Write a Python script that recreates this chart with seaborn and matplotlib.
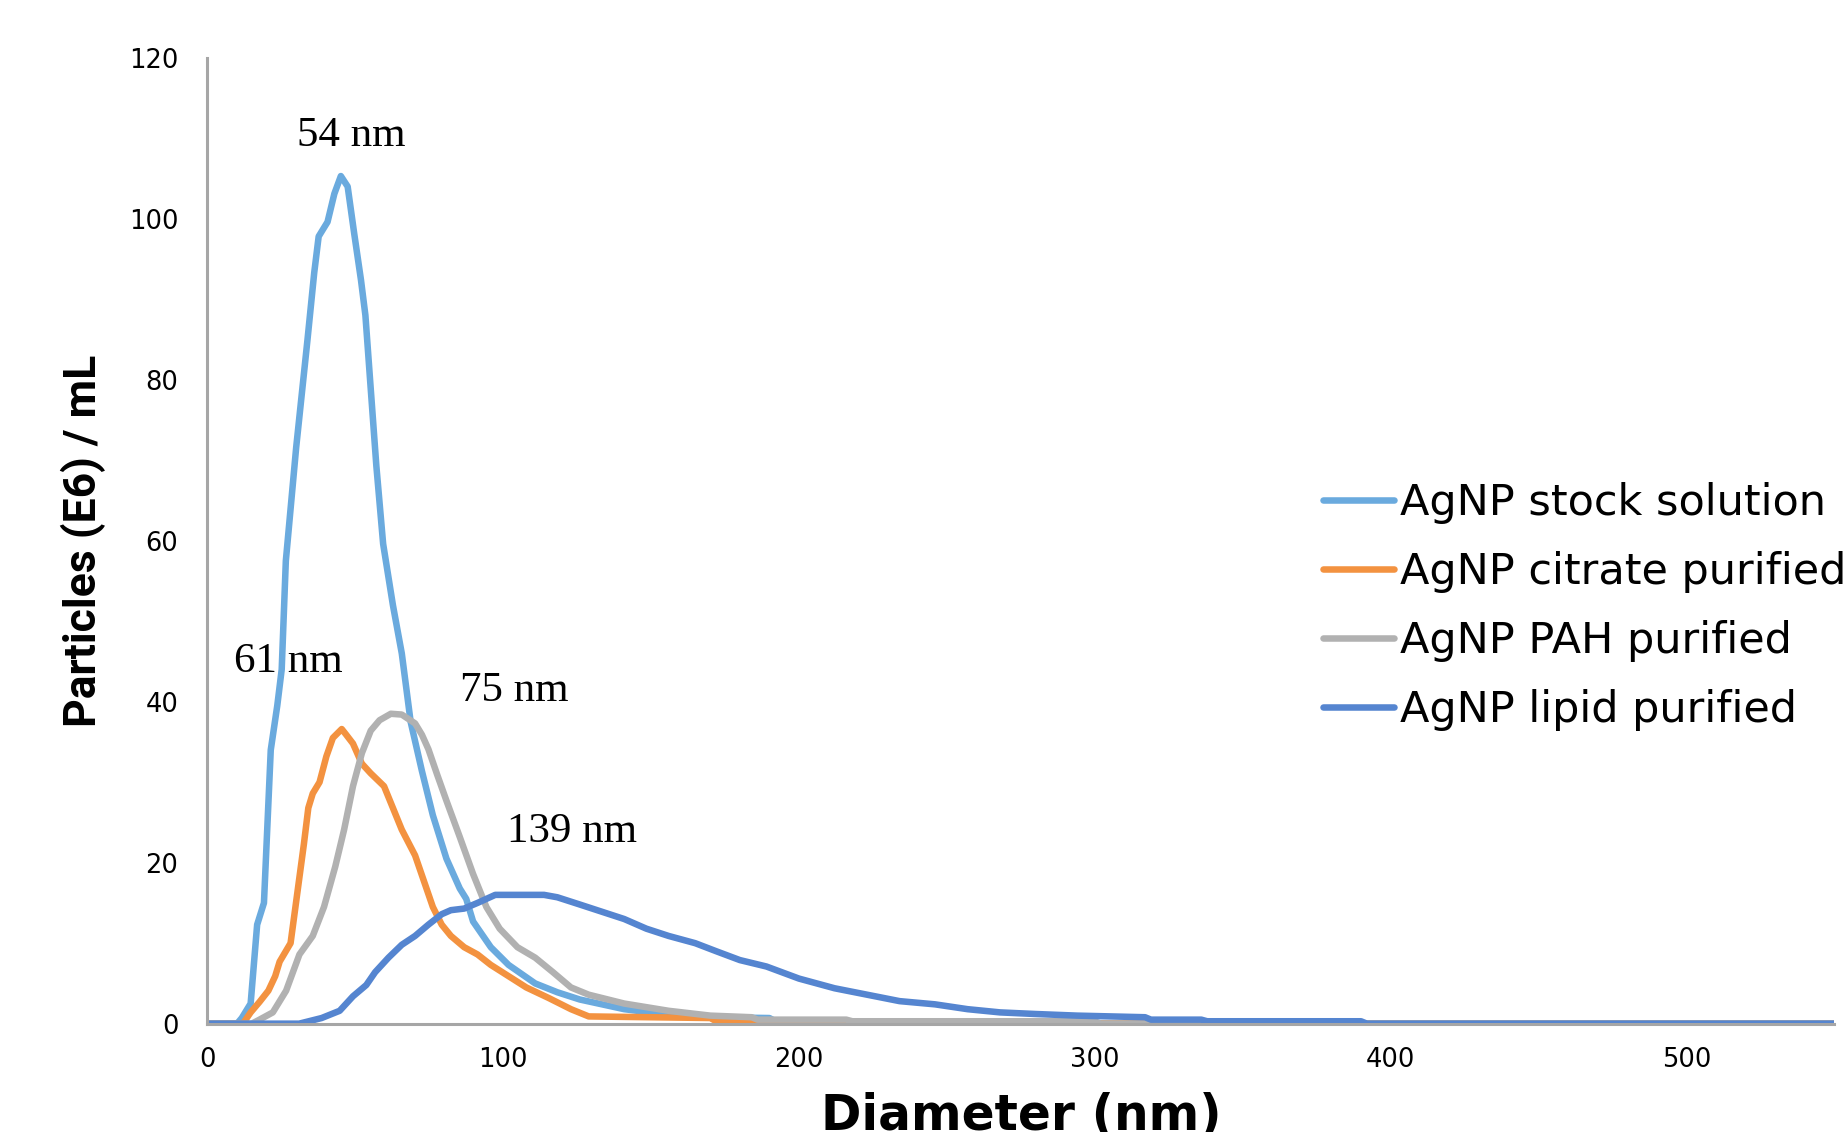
import pandas as pd
import matplotlib
matplotlib.use("Agg")
import matplotlib.pyplot as plt
import seaborn as sns

# series names (legend order)
names = ["AgNP stock solution", "AgNP citrate purified", "AgNP PAH purified", "AgNP lipid purified"]
colors = ["#6aaade", "#f39240", "#b1b1b1", "#5585d0"]

# Diameter (nm) / particles (E6) per mL
stock_x = [0, 10, 11.6, 14.6, 16.8, 19.1, 21.4, 23.6, 25.1, 26.5, 30, 33.8, 36.1, 37.6, 40.6, 42.9,
           45.1, 47.4, 49.6, 51.9, 53.4, 54.9, 57.1, 59.4, 62.7, 65.7, 68.7, 72.5, 76.2, 80.8, 85.3,
           87.5, 89.8, 95.8, 101.8, 110.8, 118.3, 125.9, 140.9, 155.9, 170, 190, 192, 215, 217, 550]
stock_y = [0, 0, 0.7, 2.5, 12.3, 15, 34, 39.5, 44, 57.5, 71.6, 84.9, 93.3, 97.8, 99.6, 103.1,
           105.3, 104, 98.2, 92.4, 88, 80.4, 69.3, 59.6, 52, 46, 37.5, 31.4, 25.9, 20.5, 16.8,
           15.5, 12.7, 9.5, 7.3, 5, 3.9, 3, 1.8, 1.1, 0.8, 0.7, 0.3, 0.3, 0, 0]

citrate_x = [0, 12, 14.6, 17.6, 20.6, 22.9, 24.4, 28.1, 29.6, 32.6, 34.1, 35.6, 37.9, 40.2, 42.4,
             45.4, 46.9, 49.2, 52.2, 55.2, 59.7, 62.7, 65.7, 70.2, 73.2, 76.2, 79.2, 82.3, 86.8,
             91.3, 95.8, 101.8, 107.8, 115.3, 122.9, 128.9, 170, 172, 212, 214, 550]
citrate_y = [0, 0, 1.4, 2.7, 4.1, 5.9, 7.7, 10, 14.1, 22.3, 26.8, 28.6, 30, 33.2, 35.5,
             36.6, 35.9, 34.8, 32.3, 31.1, 29.5, 26.8, 24.1, 20.9, 17.7, 14.5, 12.3, 10.9, 9.5,
             8.6, 7.3, 5.9, 4.5, 3.2, 1.8, 0.9, 0.7, 0.3, 0.3, 0, 0]

pah_x = [0, 15, 17.6, 22.1, 26.6, 31.1, 35.6, 39.4, 43.2, 46.2, 49.2, 52.2, 55.2, 58.2, 62, 65.7,
         70.2, 72.5, 74.7, 77.7, 80.8, 85.3, 89.8, 94.3, 98.8, 104.8, 110.8, 116.8, 122.9, 128.9,
         140.9, 155.9, 170, 184, 186, 216, 218, 300, 302, 550]
pah_y = [0, 0, 0.5, 1.4, 4.1, 8.6, 10.9, 14.5, 19.5, 24.1, 29.5, 33.6, 36.4, 37.7, 38.5, 38.4,
         37.3, 35.9, 34.1, 30.9, 27.7, 23.2, 18.6, 14.5, 11.8, 9.5, 8.2, 6.4, 4.5, 3.6,
         2.5, 1.6, 1.0, 0.8, 0.5, 0.5, 0.3, 0.3, 0, 0]

lipid_x = [0, 31, 38.6, 44.7, 49.2, 53.7, 56.7, 61.2, 65.7, 70.2, 74.7, 79.2, 82.3, 86.8, 91.3,
           97.3, 113.8, 118.3, 125.9, 133.4, 140.9, 148.4, 155.9, 164.9, 172, 180, 189, 200, 212,
           223, 234, 246, 257, 268, 280, 294, 317, 319, 336, 338, 390, 392, 550]
lipid_y = [0, 0, 0.7, 1.6, 3.4, 4.8, 6.4, 8.2, 9.8, 10.9, 12.3, 13.6, 14.1, 14.3, 15,
           16, 16, 15.7, 14.8, 13.9, 13, 11.8, 10.9, 10, 9.0, 7.9, 7.1, 5.6, 4.4,
           3.6, 2.8, 2.4, 1.8, 1.4, 1.2, 1.0, 0.8, 0.5, 0.5, 0.3, 0.3, 0, 0]

x_ticks = [0, 100, 200, 300, 400, 500]
y_ticks = [0, 20, 40, 60, 80, 100, 120]

peak_labels = ["54 nm", "61 nm", "75 nm", "139 nm"]
label_x = [48.5, 27.2, 103.7, 123.3]
label_y = [110.3, 45.0, 41.3, 23.8]

frames = []
for name, xs, ys in zip(names, [stock_x, citrate_x, pah_x, lipid_x], [stock_y, citrate_y, pah_y, lipid_y]):
    frames.append(pd.DataFrame({"diameter": xs, "particles": ys, "sample": name}))
df = pd.concat(frames, ignore_index=True)

sns.set_style("white")
plt.rcParams["font.family"] = ["DejaVu Sans"]
plt.rcParams["text.color"] = "black"
plt.rcParams["axes.labelcolor"] = "black"

fig = plt.figure(figsize=(18.49, 11.32), dpi=100)
ax = fig.add_axes([0.1122, 0.0957, 0.8798, 0.8533])

sns.lineplot(data=df, x="diameter", y="particles", hue="sample", hue_order=names,
             palette=colors, linewidth=4.7, sort=False, estimator=None, ax=ax)

ax.set_xlim(0, 550)
ax.set_ylim(0, 120)
ax.set_xticks(x_ticks)
ax.set_yticks(y_ticks)

for side in ["top", "right"]:
    ax.spines[side].set_visible(False)
for side in ["left", "bottom"]:
    ax.spines[side].set_color("#a6a6a6")
    ax.spines[side].set_linewidth(2.2)

ax.tick_params(axis="both", direction="out", length=7, width=2, color="#a6a6a6",
               labelsize=18.5, labelcolor="black")
ax.tick_params(axis="y", pad=14)
ax.tick_params(axis="x", pad=10)

ax.set_ylabel("Particles (E6) / mL", fontsize=32, fontweight="bold",
              family=["Roboto", "DejaVu Sans"], va="center")
ax.yaxis.set_label_coords(-0.076, 0.5)
# the reference crops the bottom of this label at the picture edge
ax.set_xlabel("Diameter (nm)", fontsize=35, fontweight="bold", va="top")
ax.xaxis.set_label_coords(0.5, -0.0708)

for txt, tx, ty in zip(peak_labels, label_x, label_y):
    ax.text(tx, ty, txt, family=["Liberation Serif", "DejaVu Serif"], fontsize=31,
            ha="center", va="center", color="black")

handles, labels = ax.get_legend_handles_labels()
leg = ax.legend(handles, labels, loc="upper left", bbox_to_anchor=(0.7155, 0.5745),
                bbox_transform=fig.transFigure, frameon=False, fontsize=31,
                handlelength=1.65, handletextpad=0.15, labelspacing=0.63,
                borderpad=0, borderaxespad=0)
for line in leg.get_lines():
    line.set_linewidth(4.7)

fig.savefig("out.png", dpi=100)
